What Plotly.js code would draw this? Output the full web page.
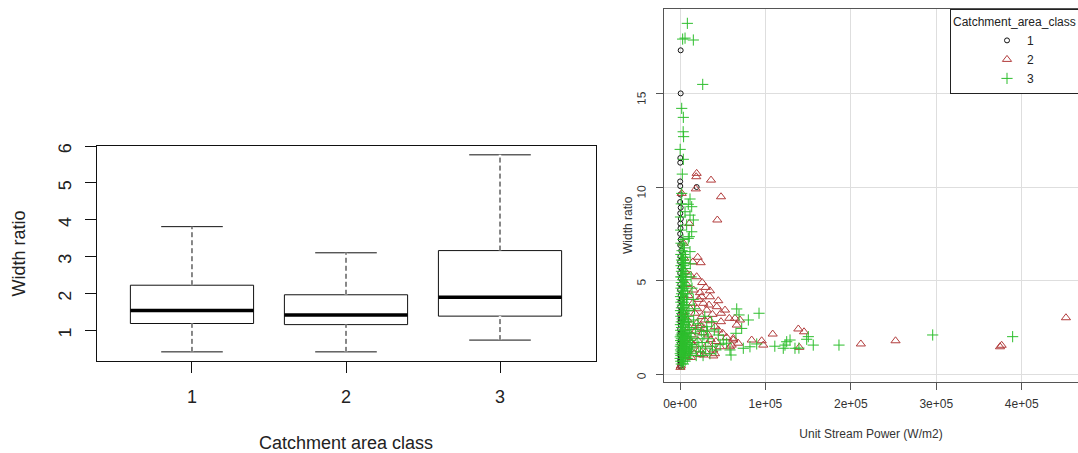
<!DOCTYPE html>
<html><head><meta charset="utf-8">
<script src="https://cdn.plot.ly/plotly-3.0.1.min.js"></script>
<style>html,body{margin:0;padding:0;background:#fff;overflow:hidden}#chart{width:1078px;height:453px}</style>
</head><body><div id="chart"></div>
<script>
// ---------- Left panel: boxplot statistics ----------
const boxClasses = [1, 2, 3];
const boxTickText = ['1', '2', '3'];
const boxLowerWhisker = [0.41, 0.41, 0.73];
const boxQ1 = [1.18, 1.15, 1.38];
const boxMedian = [1.53, 1.41, 1.89];
const boxQ3 = [2.22, 1.96, 3.16];
const boxUpperWhisker = [3.81, 3.10, 5.76];

// ---------- Right panel: scatter points ----------
const class1Power = [800,800,400,300,200,300,19500,500,200,800,300,1000,400,600,200,900,300,1500,500,200,800,300,1200,400,200,900,600,300,1500,200,700,400,1100,200,600,300,2000,500,200,900,400,1300,200,700,300,1000,500,200,800,400,300,2500,3000,2200,2800,1800,3500];
const class1Ratio = [17.3,15.0,11.55,11.3,10.3,10.05,10.0,9.6,9.2,8.9,8.6,8.3,8.05,7.8,7.5,7.2,6.9,6.6,6.3,6.0,5.7,5.4,5.1,4.8,4.5,4.2,3.9,3.6,3.4,3.2,3.0,2.8,2.6,2.4,2.25,2.1,1.95,1.8,1.65,1.5,1.4,1.3,1.2,1.1,1.0,0.9,0.8,0.7,0.6,0.5,0.42,1.7,2.2,3.0,1.2,4.0,1.5];

const class2Power = [19500,19000,18500,36300,48000,43700,10900,2000,20700,24200,19500,30100,35100,44800,25400,23400,27300,31300,48000,57700,66400,48000,41000,35100,25400,19500,26600,33100,44800,54600,62400,68200,58500,46800,39000,27300,39000,22600,15600,13700,17600,14900,83900,95600,97500,108500,138500,145200,139700,70200,64400,50000,52700,43000,35100,211700,252300,374600,376500,451800,60500,62400,500,1000,8000,10000,12000,9000,11000,7000,12500,9500,16500,21000,24000,29000,32000,36000,30000,18000,20000,22000,26000,6000,5000,4000,15000,12000,28000,38000,42000,34000,13000,23000,41000,16000,4000,3000,6500];
const class2Ratio = [10.73,10.55,9.9,10.37,9.48,8.24,8.05,9.66,6.25,5.96,5.21,4.64,4.46,3.93,4.14,4.36,3.79,3.43,3.26,2.99,2.63,2.81,2.54,2.86,3.08,2.72,2.22,2.1,2.37,1.97,1.83,1.66,1.47,1.47,1.3,1.03,0.98,1.3,1.56,2.1,3.26,3.79,1.83,1.79,1.56,2.15,2.42,2.27,1.44,2.9,2.99,2.19,3.43,3.61,4.14,1.62,1.79,1.47,1.55,3.02,1.56,1.92,0.37,0.45,4.8,4.2,3.5,2.9,2.5,2.0,1.7,1.3,1.1,1.8,2.6,2.9,1.6,1.85,1.2,2.3,3.5,4.0,4.9,5.5,6.2,7.0,6.0,5.3,2.45,3.2,1.75,3.7,0.9,1.05,1.1,4.5,3.3,1.6,1.0];

const class3Power = [8600,3100,5900,15600,26600,2000,3900,3700,4200,200,3900,2700,2000,11700,9700,13700,5900,11700,15600,7800,13700,9700,3900,11700,10900,600,1500,800,
66400,69100,80000,92500,72200,65500,58500,74100,81900,89800,122900,124900,128800,120900,134600,148300,150200,156000,186100,295800,389400,59700,111000,40200,44800,50700,54600,37100,31300,139200,
16000,18000,20000,22000,24000,26000,28000,30000,33000,35000,19000,17000,21000,25000,27000,32000,15500,14000,13000,12000,29000,38000,42000,47000,
1500,4000,800,3000,6000,200,2200,5000,8500,1000,3500,6500,10500,300,2600,5200,8000,12500,1400,4200,7000,9800,600,3000,5800,11200,1800,4600,7600,13500,400,2800,6200,9400,1200,3800,5400,10800,14500,2200,4800,8200,700,3300,6600,12000,1600,4400,9000,300,2700,5600,7800,11500,1300,3900,6900,2300,5000,9600,13000,800,3500,6300,1800,4400,8400,11000,500,3000,5800,1500,4000,7200,10000,2500,5200,900,3600,6400,9000,2000,4800,600,3100,7000,10400,1700,4300,2800,5600,8300,1000,3800,2200,5000,7600,600,3300,1800,4500,9000,2800,6000,1200,3800,2500,5200,7800,1500,4000,3000,6300,800,2200,4800,3600,7000,1700,4500,2800,6000,1200,4000,2600,5500,1800,3800,3000,6500,1000,4500,2400,5200,1200,3500];
const class3Ratio = [18.74,17.9,17.95,17.85,15.48,14.2,13.72,12.95,12.69,12.01,11.48,10.69,9.66,9.36,9.08,8.95,8.68,8.5,8.24,7.97,7.61,7.26,6.9,6.55,7.35,8.4,9.1,7.7,
3.49,3.17,2.9,3.26,2.45,2.19,1.3,1.39,1.47,1.62,1.56,1.74,1.83,1.39,1.39,1.87,2.01,1.56,1.56,2.1,2.01,1.03,1.5,2.37,2.1,1.83,1.66,2.81,2.54,1.4,
2.9,2.4,1.9,1.5,1.2,1.7,2.1,1.4,1.9,1.1,1.0,3.5,2.7,2.3,1.0,2.3,4.0,4.6,5.2,5.9,3.1,1.5,1.3,1.6,
0.55,0.55,0.7,0.7,0.7,0.85,0.85,0.85,0.85,1.0,1.0,1.0,1.0,1.1,1.1,1.1,1.1,1.1,1.2,1.2,1.2,1.2,1.3,1.3,1.3,1.3,1.4,1.4,1.4,1.4,1.5,1.5,1.5,1.5,1.6,1.6,1.6,1.6,1.6,1.7,1.7,1.7,1.8,1.8,1.8,1.8,1.9,1.9,1.9,2.0,2.0,2.0,2.0,2.0,2.1,2.1,2.1,2.2,2.2,2.2,2.2,2.35,2.35,2.35,2.5,2.5,2.5,2.5,2.65,2.65,2.65,2.8,2.8,2.8,2.8,2.95,2.95,3.1,3.1,3.1,3.1,3.25,3.25,3.4,3.4,3.4,3.4,3.55,3.55,3.7,3.7,3.7,3.85,3.85,4.0,4.0,4.0,4.15,4.15,4.3,4.3,4.3,4.45,4.45,4.6,4.6,4.75,4.75,4.75,4.9,4.9,5.05,5.05,5.2,5.2,5.2,5.35,5.35,5.5,5.5,5.65,5.65,5.8,5.8,5.95,5.95,6.1,6.1,6.25,6.25,6.4,6.4,6.6,6.75,7.0,7.2];

const powerTickVals = [0, 100000, 200000, 300000, 400000];
const powerTickText = ['0e+00', '1e+05', '2e+05', '3e+05', '4e+05'];
const ratioTickVals = [0, 5, 10, 15];
const boxRatioTicks = [1, 2, 3, 4, 5, 6];

// ---------- styling ----------
const FONT = 'Liberation Sans, Arial, Helvetica, sans-serif';
const W = 1078, H = 453;
const px = v => v / W;
const py = v => 1 - v / H;
const halfBox = 0.4;

const traces = [
  {
    type: 'box', x: boxClasses, q1: boxQ1, median: boxMedian, q3: boxQ3,
    lowerfence: boxLowerWhisker, upperfence: boxUpperWhisker,
    width: 2 * halfBox, whiskerwidth: 0.5, boxpoints: false,
    fillcolor: 'rgba(255,255,255,1)', line: {color: '#111', width: 1},
    showlegend: false, hoverinfo: 'skip', xaxis: 'x', yaxis: 'y'
  },
  {
    type: 'scatter', mode: 'markers', name: '1', x: class1Power, y: class1Ratio,
    marker: {symbol: 'circle-open', size: 5, color: '#111', line: {width: 1, color: '#111'}},
    xaxis: 'x2', yaxis: 'y2'
  },
  {
    type: 'scatter', mode: 'markers', name: '2', x: class2Power, y: class2Ratio,
    marker: {symbol: 'triangle-up-open', size: 8, color: '#B23C3C', line: {width: 1, color: '#B23C3C'}},
    xaxis: 'x2', yaxis: 'y2'
  },
  {
    type: 'scatter', mode: 'markers', name: '3', x: class3Power, y: class3Ratio,
    marker: {symbol: 'cross-thin-open', size: 8, color: '#2DBE2D', line: {width: 1, color: '#2DBE2D'}},
    xaxis: 'x2', yaxis: 'y2'
  }
];

// whiskers (dashed) and thick medians drawn on top of box trace, from the stats arrays
const shapes = [];
boxClasses.forEach((c, i) => {
  [[boxQ3[i], boxUpperWhisker[i]], [boxLowerWhisker[i], boxQ1[i]]].forEach(([a, b]) => {
    shapes.push({type: 'line', xref: 'x', yref: 'y', x0: c, x1: c, y0: a, y1: b, line: {color: '#fff', width: 2.5}});
    shapes.push({type: 'line', xref: 'x', yref: 'y', x0: c, x1: c, y0: a, y1: b, line: {color: '#111', width: 1, dash: '5px,3px'}});
  });
  shapes.push({type: 'line', xref: 'x', yref: 'y', x0: c - halfBox, x1: c + halfBox, y0: boxMedian[i], y1: boxMedian[i], line: {color: '#000', width: 3.5}});
});

const layout = {
  width: W, height: H,
  margin: {l: 0, r: 0, t: 0, b: 0, autoexpand: false},
  paper_bgcolor: '#fff', plot_bgcolor: '#fff',
  font: {family: FONT, color: '#222'},
  showlegend: true,
  xaxis: {
    domain: [px(96.5), px(595.5)], range: [0.38, 3.62], anchor: 'y',
    tickmode: 'array', tickvals: boxClasses, ticktext: boxTickText,
    ticks: 'outside', ticklen: 11, tickcolor: '#111', tickwidth: 1,
    showline: true, mirror: true, linecolor: '#111', linewidth: 1,
    showgrid: false, zeroline: false, tickfont: {size: 18, color: '#222'},
    ticklabelstandoff: 8,
    title: {text: 'Catchment area class', font: {size: 18, color: '#222'}, standoff: 31}
  },
  yaxis: {
    domain: [py(361), py(146)], range: [0.162, 6.0], anchor: 'x',
    tickmode: 'array', tickvals: boxRatioTicks, tickangle: -89.9,
    ticks: 'outside', ticklen: 11, tickcolor: '#111', tickwidth: 1,
    showline: true, mirror: true, linecolor: '#111', linewidth: 1,
    showgrid: false, zeroline: false, tickfont: {size: 18, color: '#222'},
    ticklabelstandoff: 19,
    title: {text: 'Width ratio', font: {size: 18, color: '#222'}, standoff: 24}
  },
  xaxis2: {
    domain: [px(664), 1], range: [-18730, 465900], anchor: 'y2',
    tickmode: 'array', tickvals: powerTickVals, ticktext: powerTickText,
    ticks: 'outside', ticklen: 7, tickcolor: '#555', tickwidth: 1,
    showline: true, mirror: true, linecolor: '#555', linewidth: 1,
    showgrid: true, gridcolor: '#dedede', gridwidth: 1, zeroline: false,
    tickfont: {size: 12, color: '#333'}, ticklabelstandoff: 4,
    title: {text: 'Unit Stream Power (W/m2)', font: {size: 12, color: '#333'}, standoff: 19}
  },
  yaxis2: {
    domain: [py(381.7), py(9.3)], range: [-0.395, 19.49], anchor: 'x2',
    tickmode: 'array', tickvals: ratioTickVals, tickangle: -89.9,
    ticks: 'outside', ticklen: 7, tickcolor: '#555', tickwidth: 1,
    showline: true, mirror: false, linecolor: '#555', linewidth: 1,
    showgrid: true, gridcolor: '#dedede', gridwidth: 1, zeroline: false,
    tickfont: {size: 12, color: '#333'}, ticklabelstandoff: 14
  },
  annotations: [
    {text: 'Width ratio', xref: 'paper', yref: 'paper', x: px(628), y: py(225),
     xanchor: 'center', yanchor: 'middle', textangle: -90, showarrow: false,
     font: {size: 12, color: '#333', family: FONT}}
  ],
  legend: {
    x: px(950), y: py(9.3), xanchor: 'left', yanchor: 'top',
    bgcolor: '#fff', bordercolor: '#222', borderwidth: 1,
    font: {size: 12, color: '#222', family: FONT},
    title: {text: 'Catchment_area_class', font: {size: 12, color: '#222', family: FONT}, side: 'top'},
    indentation: 36, itemwidth: 30, traceorder: 'normal'
  },
  shapes: shapes
};

Plotly.newPlot('chart', traces, layout, {staticPlot: true, displayModeBar: false});
</script></body></html>
